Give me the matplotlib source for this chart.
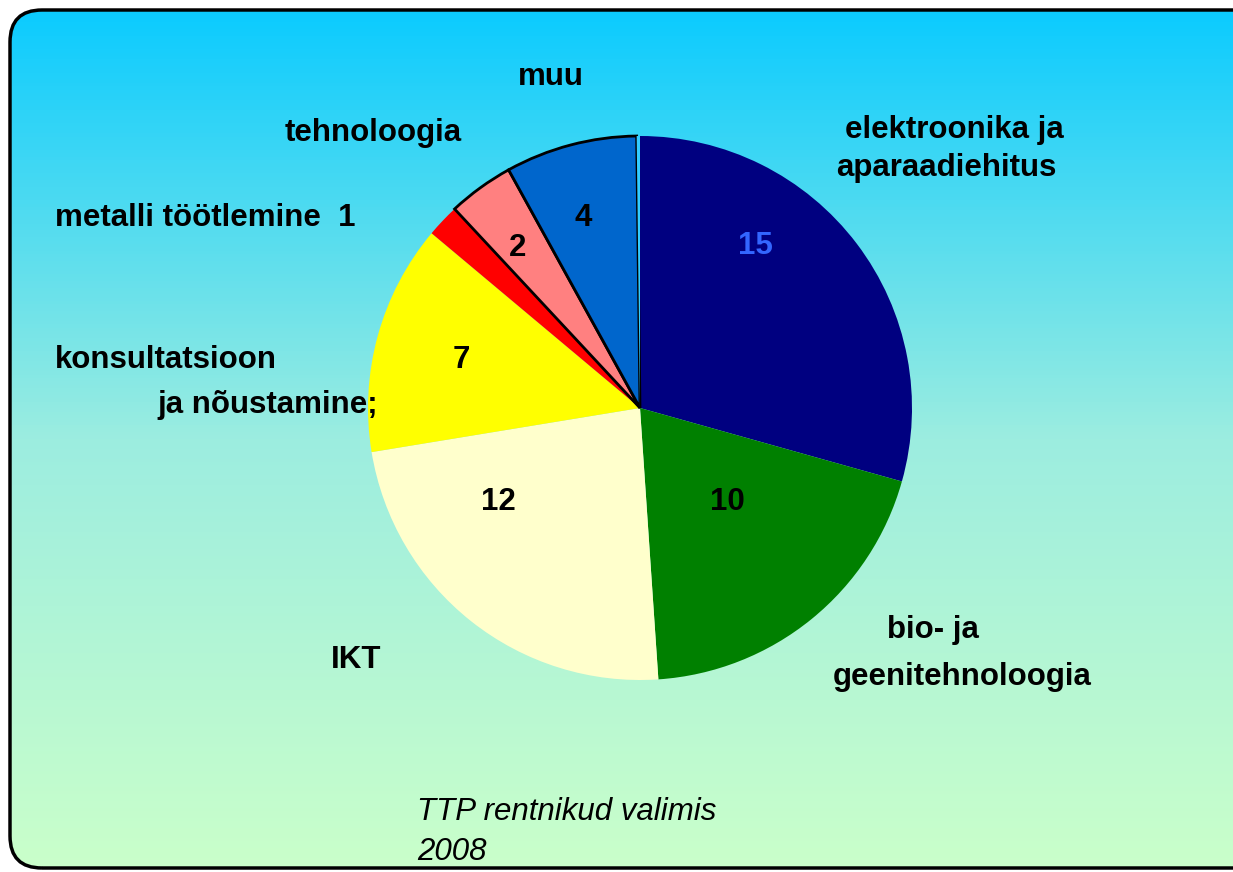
import numpy as np
import matplotlib
matplotlib.use('Agg')
import matplotlib.pyplot as plt
from matplotlib.patches import FancyBboxPatch
from matplotlib.colors import LinearSegmentedColormap

# slices, clockwise from the top
categories = ['elektroonika ja aparaadiehitus', 'bio- ja geenitehnoloogia', 'IKT',
              'konsultatsioon ja nõustamine', 'metalli töötlemine', 'tehnoloogia', 'muu', '']
values = [15, 10, 12, 7, 1, 2, 4, 0.1]
colors = ['#000080', '#008000', '#FFFFCC', '#FFFF00', '#FF0000', '#FF8080', '#0066CC', '#33CCFF']
value_labels = ['15', '10', '12', '7', '', '2', '4', '']

plt.rcParams['font.family'] = ['Liberation Sans', 'DejaVu Sans']

W, H = 1233, 872
fig = plt.figure(figsize=(W / 100, H / 100), dpi=100, facecolor='white')
ax = fig.add_axes([0, 0, 1, 1])

# rounded panel with vertical gradient
panel = FancyBboxPatch((10, 4), 1255, 858, boxstyle='round,pad=0,rounding_size=32',
                       facecolor='none', edgecolor='black', lw=2.5, zorder=3)
ax.add_patch(panel)
cmap = LinearSegmentedColormap.from_list('bg', ['#CAFFCA', '#9CEDE0', '#0BCBFF'])
grad = np.linspace(0, 1, 256).reshape(-1, 1)
img = ax.imshow(grad, extent=[10, 1265, 4, 862], origin='lower', cmap=cmap,
                aspect='auto', zorder=0)
img.set_clip_path(panel)

cx, cy, r = 640, H - 408, 272
wedges, _ = ax.pie(values, colors=colors, startangle=90, counterclock=False,
                   center=(cx, cy), radius=r, frame=True,
                   wedgeprops=dict(linewidth=0))
for w in wedges:
    w.set_zorder(2)
for i in (5, 6):
    wedges[i].set_edgecolor('black')
    wedges[i].set_linewidth(2)
ax.set_xlim(0, W)
ax.set_ylim(0, H)
ax.set_aspect('equal')
ax.axis('off')

fs = 22.5
# numbers inside slices
num_pos = [(755, 246), (727, 502), (498, 502), (461, 360), None, (518, 248), (583, 218), None]
for i, (lab, pos) in enumerate(zip(value_labels, num_pos)):
    if lab and pos:
        col = '#3366FF' if i == 0 else 'black'
        ax.text(pos[0], H - pos[1], lab, ha='center', va='center', fontsize=fs,
                fontweight='bold', color=col, zorder=4)

def lbl(x, y, s, ha='center'):
    ax.text(x, H - y, s, ha=ha, va='center', fontsize=fs, fontweight='bold', zorder=4)

lbl(551, 77, 'muu')
lbl(954, 130, 'elektroonika ja')
lbl(946, 168, 'aparaadiehitus')
lbl(373, 133, 'tehnoloogia')
lbl(55, 218, 'metalli töötlemine  1', ha='left')
lbl(55, 360, 'konsultatsioon', ha='left')
lbl(157, 405, 'ja nõustamine;', ha='left')
lbl(933, 630, 'bio- ja')
lbl(962, 677, 'geenitehnoloogia')
lbl(356, 660, 'IKT')

ax.text(417, H - 812, 'TTP rentnikud valimis', ha='left', va='center', fontsize=fs,
        style='italic', zorder=4)
ax.text(417, H - 852, '2008', ha='left', va='center', fontsize=fs, style='italic', zorder=4)

fig.savefig('out.png', dpi=100, facecolor='white')
